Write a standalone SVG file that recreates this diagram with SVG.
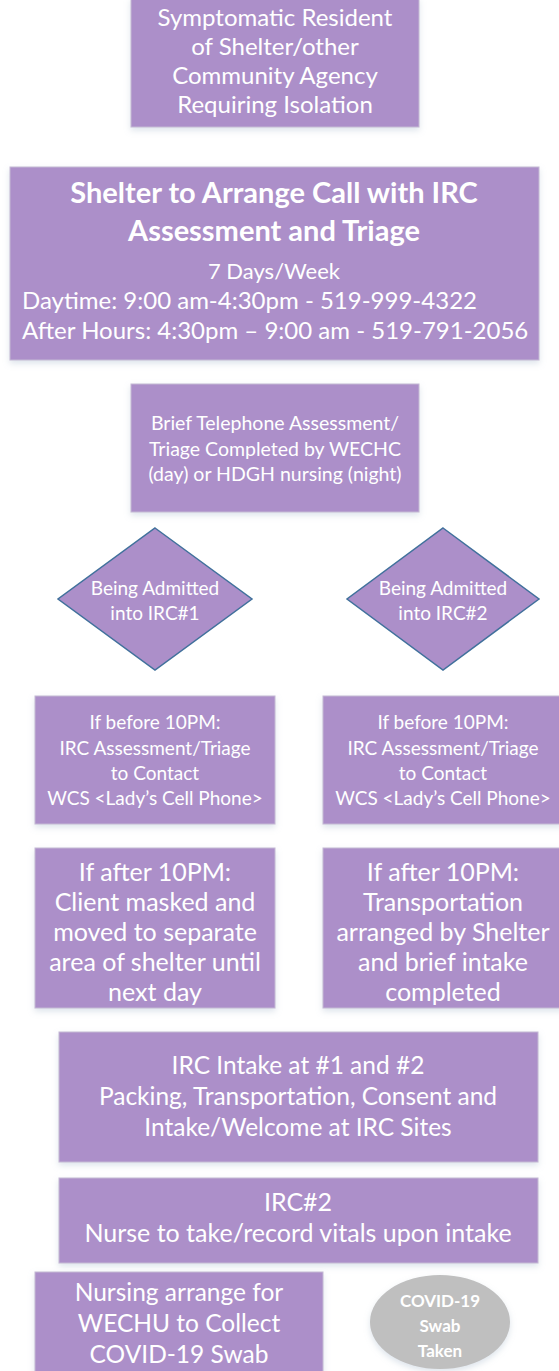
<svg xmlns="http://www.w3.org/2000/svg" width="559" height="1371" viewBox="0 0 559 1371">
<style>
.box{fill:#AC8FC9;stroke:#C4B9D4;stroke-width:1;filter:url(#sh)}
.dia{fill:#AC8FC9;stroke:#41719C;stroke-width:1.5}
.ell{fill:#BFBFBF;filter:url(#sh)}
text{font-family:Lato,"Liberation Sans",sans-serif;fill:#FFFFFF;text-anchor:middle}
.b{font-weight:bold}
.l{text-anchor:start}
</style>
<defs>
<filter id="sh" x="-10%" y="-10%" width="120%" height="130%">
<feDropShadow dx="0" dy="3" stdDeviation="3" flood-color="#9FB4C8" flood-opacity="0.35"/>
</filter>
</defs>
<rect width="559" height="1371" fill="#FFFFFF"/>
<g id="connectors"/>
<g id="n1">
<rect class="box" x="131" y="-2" width="288" height="129"/>
<text x="275" y="26" font-size="24">Symptomatic Resident</text>
<text x="275" y="55" font-size="24">of Shelter/other</text>
<text x="275" y="84" font-size="24">Community Agency</text>
<text x="275" y="113" font-size="24">Requiring Isolation</text>
</g>
<g id="n2">
<rect class="box" x="10" y="167" width="529" height="193"/>
<text class="b" x="274" y="203" font-size="29">Shelter to Arrange Call with IRC</text>
<text class="b" x="274" y="241" font-size="29">Assessment and Triage</text>
<text x="274" y="279" font-size="22">7 Days/Week</text>
<text class="l" x="22" y="309" font-size="24">Daytime: 9:00 am-4:30pm - 519-999-4322</text>
<text class="l" x="22" y="339" font-size="24">After Hours: 4:30pm – 9:00 am - 519-791-2056</text>
</g>
<g id="n3">
<rect class="box" x="131" y="384" width="288" height="128"/>
<text x="275" y="430" font-size="19.5">Brief Telephone Assessment/</text>
<text x="275" y="456" font-size="19.5">Triage Completed by WECHC</text>
<text x="275" y="481" font-size="19.5">(day) or HDGH nursing (night)</text>
</g>
<g id="n4">
<polygon class="dia" points="155,528 252,599 155,670 58,599"/>
<text x="155" y="595" font-size="19">Being Admitted</text>
<text x="155" y="620" font-size="19">into IRC#1</text>
</g>
<g id="n5">
<polygon class="dia" points="443,528 539,599 443,670 347,599"/>
<text x="443" y="595" font-size="19">Being Admitted</text>
<text x="443" y="620" font-size="19">into IRC#2</text>
</g>
<g id="n6">
<rect class="box" x="35" y="696" width="240" height="128"/>
<text x="155" y="729" font-size="19">If before 10PM:</text>
<text x="155" y="755" font-size="19">IRC Assessment/Triage</text>
<text x="155" y="780" font-size="19">to Contact</text>
<text x="155" y="805" font-size="19">WCS &lt;Lady’s Cell Phone&gt;</text>
</g>
<g id="n7">
<rect class="box" x="323" y="696" width="240" height="128"/>
<text x="443" y="729" font-size="19">If before 10PM:</text>
<text x="443" y="755" font-size="19">IRC Assessment/Triage</text>
<text x="443" y="780" font-size="19">to Contact</text>
<text x="443" y="805" font-size="19">WCS &lt;Lady’s Cell Phone&gt;</text>
</g>
<g id="n8">
<rect class="box" x="35" y="848" width="240" height="160"/>
<text x="155" y="881" font-size="25">If after 10PM:</text>
<text x="155" y="911" font-size="25">Client masked and</text>
<text x="155" y="941" font-size="25">moved to separate</text>
<text x="155" y="971" font-size="25">area of shelter until</text>
<text x="155" y="1001" font-size="25">next day</text>
</g>
<g id="n9">
<rect class="box" x="323" y="848" width="240" height="160"/>
<text x="443" y="881" font-size="25">If after 10PM:</text>
<text x="443" y="911" font-size="25">Transportation</text>
<text x="443" y="941" font-size="25">arranged by Shelter</text>
<text x="443" y="971" font-size="25">and brief intake</text>
<text x="443" y="1001" font-size="25">completed</text>
</g>
<g id="n10">
<rect class="box" x="59" y="1032" width="479" height="130"/>
<text x="298" y="1074" font-size="24.5">IRC Intake at #1 and #2</text>
<text x="298" y="1105" font-size="24.5">Packing, Transportation, Consent and</text>
<text x="298" y="1136" font-size="24.5">Intake/Welcome at IRC Sites</text>
</g>
<g id="n11">
<rect class="box" x="59" y="1178" width="479" height="85"/>
<text x="298" y="1211" font-size="25">IRC#2</text>
<text x="298" y="1242" font-size="25">Nurse to take/record vitals upon intake</text>
</g>
<g id="n12">
<rect class="box" x="35" y="1272" width="288" height="104"/>
<text x="179" y="1301" font-size="24.5">Nursing arrange for</text>
<text x="179" y="1332" font-size="24.5">WECHU to Collect</text>
<text x="179" y="1363" font-size="24.5">COVID-19 Swab</text>
</g>
<g id="n13">
<ellipse class="ell" cx="440" cy="1322" rx="70" ry="47"/>
<text class="b" x="440" y="1307" font-size="17">COVID-19</text>
<text class="b" x="440" y="1332" font-size="17">Swab</text>
<text class="b" x="440" y="1357" font-size="17">Taken</text>
</g>
</svg>
